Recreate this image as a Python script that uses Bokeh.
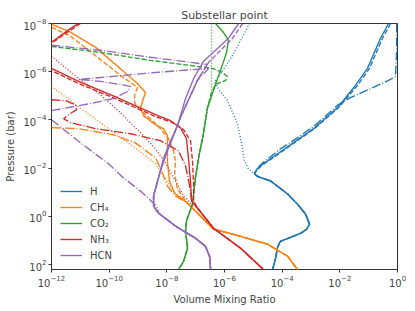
import numpy as np
from bokeh.plotting import figure
from bokeh.models import Range1d, FixedTicker
from bokeh.embed import file_html
from bokeh.resources import INLINE

# ---------------- data (log10 of mixing ratio, log10 of pressure in bar) -------------
x_ticks = [1e-12, 1e-10, 1e-8, 1e-6, 1e-4, 1e-2, 1e0]
y_ticks = [1e-8, 1e-6, 1e-4, 1e-2, 1e0, 1e2]
species = ["H", "CH\u2084", "CO\u2082", "NH\u2083", "HCN"]
colors = ["#1f77b4", "#ff7f0e", "#2ca02c", "#d62728", "#9467bd"]

# H
h_solid_lx = [-0.31, -0.59, -1.04, -1.46, -2.05, -2.91, -4.06, -4.75, -4.92, -4.96, -4.82, -4.40,
              -3.81, -3.47, -3.19, -3.05, -3.15, -3.36, -4.06, -4.16, -4.23, -4.33]
h_solid_lp = [-8.0, -7.39, -6.14, -5.43, -4.55, -3.64, -2.68, -2.10, -1.89, -1.76, -1.64, -1.47,
              -0.93, -0.51, -0.10, 0.32, 0.53, 0.70, 1.03, 1.28, 1.74, 2.20]
h_dash_lx = [-0.24, -0.52, -0.97, -1.39, -2.01, -2.88, -4.02, -4.72, -4.89]
h_dash_lp = [-8.0, -7.39, -6.14, -5.43, -4.55, -3.64, -2.68, -2.10, -1.89]
h_dashdot_lx = [-0.03, -0.03, -0.07, -0.31, -0.93, -1.63, -2.05, -2.84, -3.47, -4.06, -4.68, -4.89]
h_dashdot_lp = [-8.0, -6.89, -5.80, -5.64, -5.30, -4.93, -4.64, -3.80, -3.26, -2.80, -2.22, -1.97]
h_dot_lx = [-5.13, -5.69, -6.17, -6.35, -6.21, -5.90, -5.55, -5.38, -5.31, -5.17]
h_dot_lp = [-8.0, -6.74, -5.85, -5.60, -5.30, -4.80, -3.84, -2.85, -2.30, -1.97]

# CH4
ch4_solid_lx = [-12.0, -11.34, -10.47, -9.54, -9.02, -8.74, -8.81, -8.91, -8.81, -8.39, -8.12, -7.98,
                -7.98, -7.91, -7.73, -7.28, -6.83, -6.38, -5.69, -4.51, -3.81, -3.47]
ch4_solid_lp = [-7.97, -7.64, -7.01, -6.05, -5.51, -5.14, -4.89, -4.51, -4.18, -3.80, -3.64, -3.35,
                -2.30, -1.47, -0.97, -0.55, -0.01, 0.53, 0.74, 1.15, 1.65, 2.20]
ch4_dash_lx = [-12.0, -11.34, -10.40, -9.61, -9.02, -9.12, -9.12, -8.98, -8.57, -8.22, -7.94, -7.77,
               -7.70, -7.73, -7.63, -7.42]
ch4_dash_lp = [-7.85, -7.47, -6.60, -5.85, -5.35, -5.01, -4.72, -4.47, -4.05, -3.64, -3.22, -2.72,
               -2.30, -1.80, -1.14, -0.76]
ch4_dashdot_lx = [-12.0, -11.06, -9.88, -9.09, -8.39, -8.15, -7.98, -7.70]
ch4_dashdot_lp = [-3.68, -3.64, -3.39, -3.05, -2.43, -1.80, -1.26, -0.85]
ch4_dot_lx = [-12.0, -11.06, -9.88, -8.91, -8.39, -8.05, -7.70]
ch4_dot_lp = [-5.39, -4.55, -3.51, -2.68, -2.18, -1.55, -0.93]

# CO2
co2_solid_lx = [-6.31, -6.05, -5.86, -5.93, -6.03, -6.24, -6.48, -6.59, -6.73, -6.90, -7.01, -7.11,
                -7.32, -7.35, -7.28, -7.42, -7.59]
co2_solid_lp = [-8.0, -7.65, -7.30, -6.80, -6.43, -5.72, -4.89, -4.51, -3.43, -2.43, -1.60, -0.51,
                0.20, 0.61, 1.32, 1.86, 2.20]
co2_dash_lx = [-12.0, -10.30, -8.57, -7.18, -6.42, -6.07, -5.90, -5.96, -6.31, -6.45]
co2_dash_lp = [-7.05, -6.80, -6.47, -6.26, -6.14, -5.97, -5.80, -5.64, -5.47, -5.14]
co2_dot_lx = [-6.45, -6.45, -6.45]
co2_dot_lp = [-8.0, -6.47, -4.93]

# NH3
nh3_solid_lx = [-11.06, -11.27, -11.62, -12.0, -12.38, -12.38, -12.0, -11.06, -9.88, -8.39, -7.87,
                -7.53, -7.32, -7.25, -7.18, -7.14, -6.94, -6.38, -5.44, -4.65]
nh3_solid_lp = [-8.0, -7.85, -7.55, -7.22, -6.89, -6.39, -6.14, -5.60, -5.01, -4.22, -3.97,
                -3.68, -3.22, -2.43, -1.47, -0.64, -0.35, 0.49, 1.32, 2.20]
nh3_dash_lx = [-10.99, -11.55, -12.0, -12.38, -12.38, -12.0, -11.06, -9.88, -8.39, -7.80, -7.42,
               -7.18, -7.11, -7.07, -7.07]
nh3_dash_lp = [-8.0, -7.55, -7.18, -6.89, -6.39, -6.05, -5.51, -4.93, -4.14, -3.89, -3.60,
               -3.14, -2.30, -1.26, -0.64]
nh3_dashdot_lx = [-12.0, -11.51, -11.17, -11.13, -11.41, -11.58, -11.34, -10.47, -9.26, -8.22, -7.60,
                  -7.35, -7.21, -7.14]
nh3_dashdot_lp = [-4.84, -4.80, -4.63, -4.43, -4.22, -4.05, -3.89, -3.64, -3.43, -3.14, -2.72,
                  -2.10, -1.26, -0.64]
nh3_dot_lx = [-12.0, -11.06, -10.47, -9.61, -8.91, -8.39, -8.05, -7.70, -7.42, -7.18]
nh3_dot_lp = [-6.64, -5.72, -5.22, -4.30, -3.47, -2.80, -2.22, -1.47, -0.85, -0.55]

# HCN
hcn_solid_lx = [-5.51, -5.86, -6.31, -6.73, -7.07, -7.35, -7.63, -7.87, -8.12, -8.32, -8.46, -8.46,
                -8.29, -7.70, -7.01, -6.66, -6.52, -6.48]
hcn_solid_lp = [-8.0, -7.39, -6.89, -6.43, -5.72, -4.89, -3.76, -3.14, -2.39, -1.47, -0.85, -0.43,
                -0.14, 0.40, 0.90, 1.24, 1.65, 2.20]
hcn_dash_lx = [-5.37, -5.72, -6.55, -6.94, -7.18, -7.53, -7.80, -8.05, -8.22]
hcn_dash_lp = [-8.0, -7.39, -6.39, -5.64, -5.01, -4.10, -3.26, -2.51, -1.89]
hcn_dashdot_lx = [-12.0, -10.30, -8.57, -7.18, -6.59]
hcn_dashdot_lp = [-7.10, -6.89, -6.60, -6.39, -6.30]
hcn_dashdot2_lx = [-12.0, -10.65, -9.85, -9.36, -9.26, -9.61, -10.30, -11.06, -10.30, -8.39, -6.55]
hcn_dashdot2_lp = [-4.39, -4.68, -4.89, -5.18, -5.39, -5.47, -5.60, -5.68, -5.76, -5.97, -6.14]
hcn_dashdot3_lx = [-12.0, -10.99, -10.02, -9.54, -8.91, -8.46, -8.32]
hcn_dashdot3_lp = [-4.01, -3.05, -2.18, -1.64, -1.05, -0.55, -0.35]

# ---------------- figure ----------------
p = figure(width=415, height=311, x_axis_type="log", y_axis_type="log",
           x_range=Range1d(1e-12, 1.0), y_range=Range1d(10 ** 2.2, 1e-8),
           output_backend="svg", toolbar_location=None,
           min_border_left=51, min_border_right=18, min_border_top=23, min_border_bottom=42,
           title="Substellar point")
p.title.align = "center"
p.title.text_font = "DejaVu Sans"
p.title.text_font_size = "11px"
p.title.text_font_style = "normal"
p.title.standoff = 4
p.grid.visible = False
p.outline_line_color = "black"
p.outline_line_width = 0.8
p.background_fill_color = "white"
p.border_fill_color = "white"

for ax in (p.xaxis[0], p.yaxis[0]):
    ax.axis_line_color = None
    ax.major_tick_out = 3
    ax.major_tick_in = 0
    ax.minor_tick_line_color = None
    ax.major_tick_line_width = 0.8
    ax.major_label_text_font = "DejaVu Sans"
    ax.major_label_text_font_size = "10px"
    ax.axis_label_text_font = "DejaVu Sans"
    ax.axis_label_text_font_size = "10px"
    ax.axis_label_text_font_style = "normal"
    ax.major_label_standoff = 2
    ax.axis_label_standoff = 4

p.xaxis.ticker = FixedTicker(ticks=x_ticks)
p.yaxis.ticker = FixedTicker(ticks=y_ticks)
p.xaxis.axis_label = "Volume Mixing Ratio"
p.yaxis.axis_label = "Pressure (bar)"

LW = 1.35
DASHED = "5 2"
DASHDOT = "9 2 1 2"
DOTTED = "1 2"


def tolin(v):
    return [10.0 ** a for a in v]


def draw(lx, lp, color, dash, label=None):
    kw = {}
    if label is not None:
        kw["legend_label"] = label
    p.line(tolin(lx), tolin(lp), line_color=color, line_width=LW, line_dash=dash, **kw)


# H
c = colors[0]
draw(h_solid_lx, h_solid_lp, c, "solid", species[0])
draw(h_dash_lx + h_solid_lx[9:], h_dash_lp + h_solid_lp[9:], c, DASHED)
draw(h_dashdot_lx + h_solid_lx[9:], h_dashdot_lp + h_solid_lp[9:], c, DASHDOT)
draw(h_dot_lx + h_solid_lx[9:], h_dot_lp + h_solid_lp[9:], c, DOTTED)

# CH4
c = colors[1]
draw(ch4_solid_lx, ch4_solid_lp, c, "solid", species[1])
draw(ch4_dash_lx + ch4_solid_lx[15:], ch4_dash_lp + ch4_solid_lp[15:], c, DASHED)
draw(ch4_dashdot_lx + ch4_solid_lx[15:], ch4_dashdot_lp + ch4_solid_lp[15:], c, DASHDOT)
draw(ch4_dot_lx + ch4_solid_lx[15:], ch4_dot_lp + ch4_solid_lp[15:], c, DOTTED)

# CO2
c = colors[2]
draw(co2_solid_lx, co2_solid_lp, c, "solid", species[2])
draw(co2_dash_lx + co2_solid_lx[7:], co2_dash_lp + co2_solid_lp[7:], c, DASHED)
draw(co2_dot_lx + co2_solid_lx[7:], co2_dot_lp + co2_solid_lp[7:], c, DOTTED)

# NH3
c = colors[3]
draw(nh3_solid_lx, nh3_solid_lp, c, "solid", species[3])
draw(nh3_dash_lx + nh3_solid_lx[16:], nh3_dash_lp + nh3_solid_lp[16:], c, DASHED)
draw(nh3_dashdot_lx + nh3_solid_lx[16:], nh3_dashdot_lp + nh3_solid_lp[16:], c, DASHDOT)
draw(nh3_dot_lx + nh3_solid_lx[16:], nh3_dot_lp + nh3_solid_lp[16:], c, DOTTED)

# HCN
c = colors[4]
draw(hcn_solid_lx, hcn_solid_lp, c, "solid", species[4])
draw(hcn_dash_lx + hcn_solid_lx[9:], hcn_dash_lp + hcn_solid_lp[9:], c, DASHED)
draw(hcn_dashdot_lx + hcn_dash_lx[3:] + hcn_solid_lx[9:],
     hcn_dashdot_lp + hcn_dash_lp[3:] + hcn_solid_lp[9:], c, DASHDOT)
draw(hcn_dashdot2_lx + hcn_dash_lx[3:] + hcn_solid_lx[9:],
     hcn_dashdot2_lp + hcn_dash_lp[3:] + hcn_solid_lp[9:], c, DASHDOT)
draw(hcn_dashdot3_lx + hcn_solid_lx[12:], hcn_dashdot3_lp + hcn_solid_lp[12:], c, DASHDOT)

lg = p.legend[0]
lg.location = (9, 6)
lg.padding = 0
lg.margin = 0
lg.spacing = 0
lg.glyph_width = 22
lg.glyph_height = 16
lg.label_height = 16
lg.label_standoff = 8
lg.label_text_font = "DejaVu Sans"
lg.label_text_font_size = "10px"
lg.border_line_alpha = 0
lg.background_fill_alpha = 0

open("out.html", "w").write(file_html(p, INLINE))
